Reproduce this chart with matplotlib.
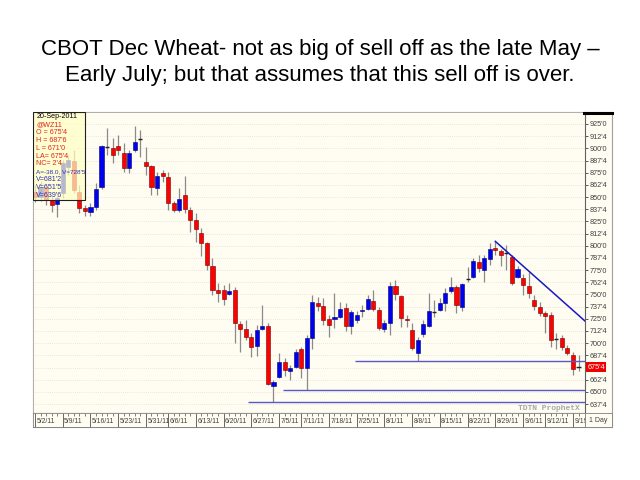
import matplotlib
matplotlib.use("Agg")
import matplotlib.pyplot as plt
import matplotlib.transforms as mtransforms
from matplotlib.patches import Rectangle
import numpy as np
import pandas as pd

# ---------------- data ----------------
title_lines = ["CBOT Dec Wheat- not as big of sell off as the late May \u2013",
               "Early July; but that assumes that this sell off is over."]

holidays = ["2011-05-30", "2011-07-04", "2011-09-05"]
dates = [d for d in pd.bdate_range("2011-05-02", "2011-09-20") if d.strftime("%Y-%m-%d") not in holidays]

opens = [855, 850, 860, 847, 843, 854, 881, 887, 855, 839,
         834.5, 840, 860, 901.5, 900.5, 902.5, 895, 880, 898, 909.5,
         886, 882, 859.5, 874.5, 870.5, 844, 836.5, 852, 836.5, 826.5,
         813, 802.5, 779.5, 754.5, 754.5, 750, 754.5, 719.5, 715, 706,
         697, 715, 717.5, 656, 665.5, 681, 671, 676, 694.5, 675,
         705, 741, 738, 724.5, 724.5, 727, 736.5, 718, 724, 732.5,
         735, 743.5, 734, 714.5, 720.5, 758.5, 748.5, 724.5, 714, 689.5,
         709, 718, 732.5, 734, 741, 753.5, 757.5, 737.5, 766.5, 768,
         783.5, 775, 786.5, 797.5, 794.5, 792.5, 788.5, 768, 766.5, 758.5,
         744.5, 737.5, 730.5, 729, 704.5, 705, 695.5, 688, 675.5]
highs = [862, 866, 863, 852, 851, 888, 893, 898, 862.5, 842,
         844, 864.5, 903.5, 921, 910.5, 913.5, 905.5, 898, 923, 919,
         901.5, 883, 875.5, 878, 875.5, 846, 859, 872, 840, 833.5,
         818, 804, 787, 761.5, 759.5, 762, 757.5, 723, 724, 710,
         718.5, 739, 721, 662, 689.5, 684.5, 677.5, 694, 696.5, 708.5,
         749.5, 747.5, 746, 729, 751, 742.5, 741, 734, 733, 739,
         749.5, 754.5, 737.5, 724, 763, 765, 749.5, 729, 720.5, 706.5,
         724, 751, 744.5, 746, 756.5, 768, 759.5, 761.5, 778.5, 787,
         790.5, 790.5, 802.5, 804.5, 797, 800.5, 791, 779, 771.5, 773.5,
         749.5, 742.5, 732.5, 731.5, 710, 708.5, 698, 691, 687.75]
lows = [845, 846, 842, 834.5, 829.5, 849, 872.5, 854, 833.5, 830.5,
        830.5, 836.5, 858, 893, 885, 893, 875.5, 875, 896, 891,
        872.5, 852, 852, 865, 836.5, 834.5, 835, 834, 814.5, 804,
        789, 775, 749.5, 742.5, 739, 749.5, 700, 691, 703, 686,
        687, 713.5, 657, 639.75, 664, 666.5, 662, 674, 664, 651.625,
        694.5, 732.5, 718.5, 706.5, 715.5, 725.5, 712, 709, 720.5, 727,
        734, 732.5, 713.5, 711.5, 708.5, 744.5, 717, 717, 693, 681.25,
        706.5, 717, 727, 732.5, 732.5, 751, 730.5, 732.5, 763, 766.5,
        773.5, 763, 780, 790.5, 779, 775, 759.5, 767, 749.5, 746,
        734, 728, 710.5, 696.5, 694.5, 693, 688, 667.5, 671]
closes = [850, 860, 847, 842, 849, 885, 888, 857, 839, 835.5,
          840, 858.5, 902.5, 901, 893, 898.5, 880, 895, 906.5, 909,
          882, 860.5, 871.5, 871.5, 844, 837, 848.5, 837.5, 826.5, 817,
          803, 780, 754.5, 752, 745.5, 754, 720.5, 715, 706, 696.5,
          714, 717.5, 658, 660, 681, 672.5, 675, 690.5, 675, 705.5,
          742.5, 738, 724, 718.5, 727, 735, 718, 731.5, 729, 734,
          745.5, 735, 716, 720.5, 758.5, 750, 726, 723.5, 695.5, 703,
          719.5, 732.5, 732, 741, 752, 757.5, 739, 760.5, 766, 784.5,
          777, 787.5, 796.5, 795.5, 791, 792, 761.5, 776, 759.5, 752,
          738, 730.5, 728, 703, 704, 696.5, 689.5, 673, 675.5]

week_labels = ["5/2/11", "5/9/11", "5/16/11", "5/23/11", "5/31/11", "6/6/11", "6/13/11",
               "6/20/11", "6/27/11", "7/5/11", "7/11/11", "7/18/11", "7/25/11", "8/1/11",
               "8/8/11", "8/15/11", "8/22/11", "8/29/11", "9/6/11", "9/12/11", "9/19"]

support_levels = [681.25, 651.625, 639.75]
support_start_idx = [57.7, 44.7, 38.4]
trend_start = (83, 804.5)
trend_value_last = 728.625

info_lines = [("20-Sep-2011", "black"), ("@WZ11", "#E02020"), ("O = 675'4", "#E02020"),
              ("H = 687'6", "#E02020"), ("L = 671'0", "#E02020"), ("LA= 675'4", "#E02020"),
              ("NC= 2'4", "#E02020"), ("A=-38.0, V=728'5", "#3030C0"), ("V=681'2", "#3030C0"),
              ("V=651'5", "#3030C0"), ("V=639'6", "#3030C0")]
last_price = 675.5

# ---------------- helpers ----------------
def fmt_price(v):
    whole = int(np.floor(v + 1e-9))
    eighth = int(round((v - whole) * 8))
    return f"{whole}'{eighth}"

W, H = 640, 480
def fx(px):
    return px / W
def fy(py):
    return 1 - py / H

cream = "#FFFDF2"
fig = plt.figure(figsize=(6.4, 4.8), dpi=100)
fig.patch.set_facecolor("white")

# chart frame background (behind everything)
frame = Rectangle((fx(33), fy(427)), fx(612) - fx(33), fy(112) - fy(427),
                  transform=fig.transFigure, facecolor=cream, edgecolor="#A0A0A0",
                  linewidth=0.8, zorder=-5)
fig.patches.append(frame)

# title
for i, line in enumerate(title_lines):
    fig.text(0.5, fy(50 + 25 * i), line, ha="center", va="center", fontsize=16,
             family="Liberation Sans", color="black")

ax = fig.add_axes([fx(33), fy(413), fx(585) - fx(33), fy(112) - fy(413)])
ax.set_facecolor(cream)
n = len(opens)
x = np.arange(n)
ax.set_xlim(-0.36, 99.17)
ax.set_ylim(628.3, 937.3)

# gridlines
levels = np.arange(637.5, 925.1, 12.5)
for lv in levels:
    ax.axhline(lv, color="#D8D4C4", lw=0.5, ls=(0, (1, 2)), zorder=1)

o = np.array(opens); h = np.array(highs); l = np.array(lows); c = np.array(closes)
ax.vlines(x, l, h, color="#8A8A8A", lw=0.9, zorder=2)
up = c > o + 0.9
down = c < o - 0.9
doji = ~(up | down)
bw = 0.74
ax.bar(x[up], (c - o)[up], bottom=o[up], width=bw, color="#0000F0", edgecolor="#000070", lw=0.4, zorder=3)
ax.bar(x[down], (o - c)[down], bottom=c[down], width=bw, color="#FF0000", edgecolor="#700000", lw=0.4, zorder=3)
ax.hlines(((o + c) / 2)[doji], x[doji] - bw / 2, x[doji] + bw / 2, color="#202020", lw=1.0, zorder=3)

# support lines
for lv, st in zip(support_levels, support_start_idx):
    ax.hlines(lv, st, 99.17, color="#5858C8", lw=1.0, zorder=4)

# trendline
slope = (trend_value_last - trend_start[1]) / (98 - trend_start[0])
tx = np.array([trend_start[0], 99.17])
ax.plot(tx, trend_start[1] + slope * (tx - trend_start[0]), color="#1818C8", lw=1.1, zorder=4)

# right price axis (label under the price tag is hidden, as in the reference)
ax.yaxis.tick_right()
ax.set_yticks(levels)
ax.set_yticklabels(["" if abs(v - last_price) < 6 else fmt_price(v) for v in levels])
ax.tick_params(axis="y", right=True, length=2.5, width=0.6, pad=1, labelsize=5.2,
               labelcolor="#404040", color="#404040")
for lab in ax.get_yticklabels():
    lab.set_family("Liberation Sans")
ax.set_xticks([])
for s in ["left", "top"]:
    ax.spines[s].set_color("#A0A0A0"); ax.spines[s].set_linewidth(0.6)
ax.spines["right"].set_color("#606060"); ax.spines["right"].set_linewidth(0.8)
ax.spines["bottom"].set_color("#606060"); ax.spines["bottom"].set_linewidth(0.8)

# price tag
trans = mtransforms.blended_transform_factory(ax.transAxes, ax.transData)
ax.text(1.004, last_price, fmt_price(last_price), transform=trans, ha="left", va="center",
        fontsize=5.2, color="white", family="Liberation Sans",
        bbox=dict(facecolor="#F00000", edgecolor="none", pad=1.2), zorder=10, clip_on=False)

# black top bar over the price axis
fig.add_artist(plt.Line2D([fx(584), fx(612)], [fy(112.5), fy(112.5)], transform=fig.transFigure,
                          color="black", lw=2.2))

# watermark
ax.text(0.99, 0.004, "TDTN ProphetX", transform=ax.transAxes, ha="right", va="bottom",
        fontsize=5.8, color="#A8A8A8", family="Liberation Mono", fontweight="bold", zorder=5)

# info box
bx0, bx1 = 0.0, (85 - 33) / 552
by0 = (413 - 200) / 301
ax.add_patch(Rectangle((bx0, by0), bx1 - bx0, 1 - by0, transform=ax.transAxes,
                       facecolor="#FFFFC4", alpha=0.72, edgecolor="none", zorder=6))
ax.add_patch(Rectangle((bx0, by0), bx1 - bx0, 1 - by0, transform=ax.transAxes,
                       facecolor="none", edgecolor="#202020", lw=0.8, zorder=7))
line_y = [116, 125, 133, 140.5, 148, 156, 163.5, 171.5, 179.5, 187.5, 195.5]
for (txt, col), py in zip(info_lines, line_y):
    fs = 4.6 if len(txt) > 12 else 5.1
    ax.text(0.006, (413 - py) / 301, txt, transform=ax.transAxes, ha="left", va="center",
            fontsize=fs, color=col, family="Liberation Sans", zorder=8)

# date strip
sx = fig.add_axes([fx(33), fy(427), fx(585) - fx(33), fy(413) - fy(427)])
sx.set_facecolor(cream)
sx.set_xlim(-0.36, 99.17)
sx.set_ylim(0, 1)
sx.set_yticks([])
week_idx = [i for i, d in enumerate(dates) if i == 0 or d.weekday() < dates[i - 1].weekday()]
sx.set_xticks(week_idx)
sx.set_xticks(x, minor=True)
sx.set_xticklabels([])
sx.tick_params(axis="x", which="major", top=True, bottom=False, direction="in", length=10, width=0.6, color="#505050")
sx.tick_params(axis="x", which="minor", top=True, bottom=False, direction="in", length=2.2, width=0.5, color="#505050")
for i, lab in zip(week_idx, week_labels):
    sx.text(i + 0.25, 0.42, lab, ha="left", va="center", fontsize=4.9, color="#404040",
            family="Liberation Sans")
for s in sx.spines.values():
    s.set_color("#808080"); s.set_linewidth(0.6)

# 1 Day box
fig.patches.append(Rectangle((fx(585), fy(427)), fx(612) - fx(585), fy(413) - fy(427),
                             transform=fig.transFigure, facecolor=cream, edgecolor="#808080", lw=0.6))
fig.text(fx(598.5), fy(420), "1 Day", ha="center", va="center", fontsize=5, color="#404040",
         family="Liberation Sans")

fig.savefig("out.png", dpi=100, facecolor="white")
